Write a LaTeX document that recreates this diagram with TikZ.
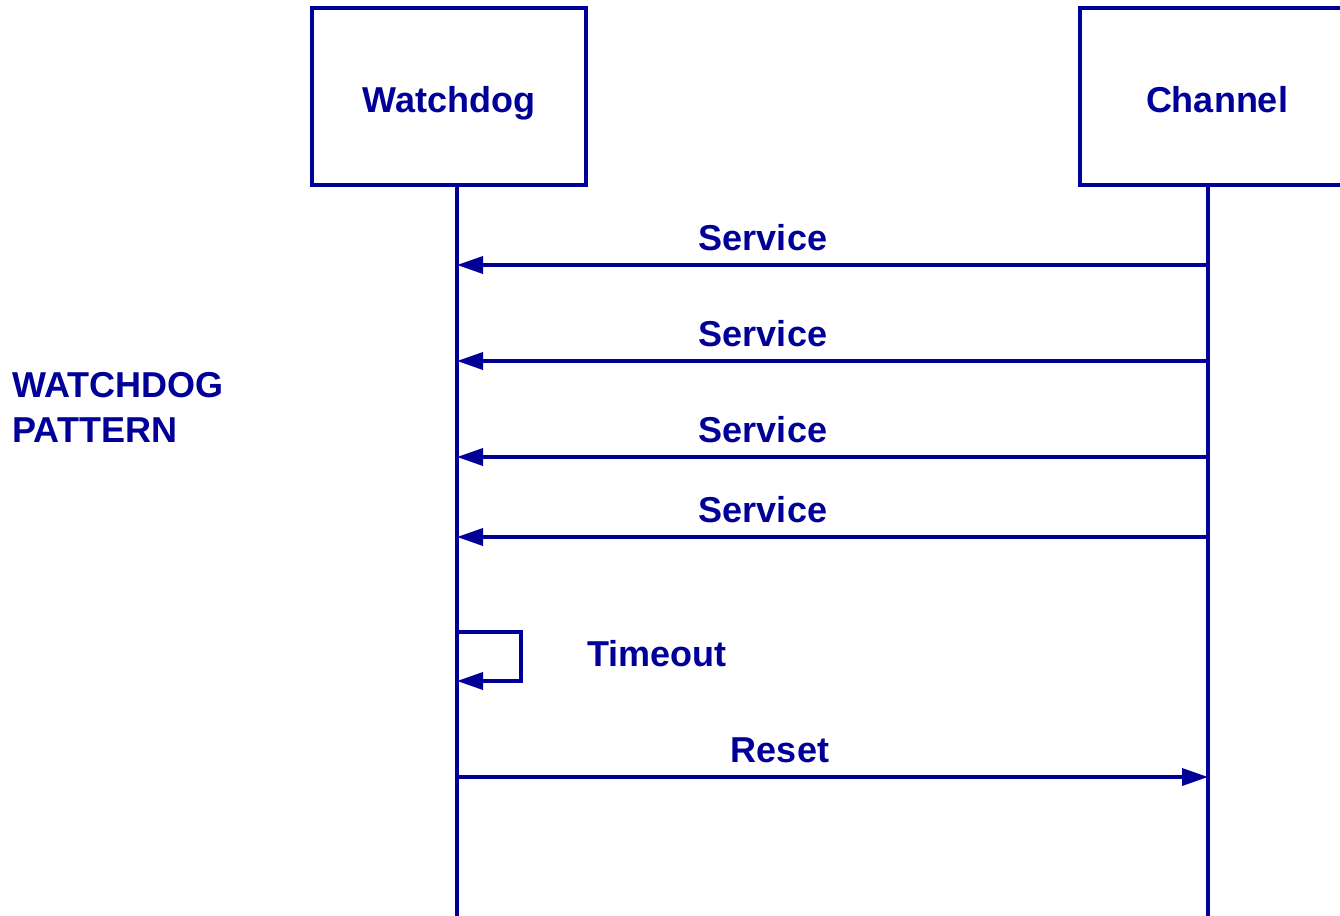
\documentclass[tikz,border=0pt]{standalone}
\usepackage{fontspec}
\setmainfont{Liberation Sans}
\usepackage{tikz}
\usetikzlibrary{arrows.meta,positioning}
\definecolor{navy}{HTML}{000099}

\begin{document}
\begin{tikzpicture}[
      x=0.5pt,y=-0.5pt,
      every node/.style={font=\fontsize{18}{21}\selectfont\bfseries,text=navy},
      actorbox/.style={draw=navy,line width=2pt,minimum width=137pt,minimum height=88.5pt,inner sep=0pt,text height=18pt,text depth=2.5pt},
      lifeline/.style={draw=navy,line width=2pt},
      msg/.style={draw=navy,line width=1.8pt,-{Triangle[length=13pt,width=8.5pt]}},
      msglabel/.style={anchor=base}
  ]
    \useasboundingbox (0,0) rectangle (1340,916);
    \clip (0,0) rectangle (1340,916);

    % actors
    \node[actorbox] (watchdog) at (449,96.5) {Watchdog};
    \node[actorbox] (channel) at (1217,96.5) {Channel};

    % lifelines
    \coordinate (wdtop) at (457,185);
    \coordinate (wdend) at (457,916);
    \coordinate (chtop) at (1208,185);
    \coordinate (chend) at (1208,916);
    \draw[lifeline] (wdtop) -- (wdend);
    \draw[lifeline] (chtop) -- (chend);

    \node[anchor=base west,inner sep=0pt] (title) at (12,397) {WATCHDOG};
    \node[anchor=base west,inner sep=0pt] (title2) at (12,442) {PATTERN};

    % service messages
    \foreach \y/\n in {265/1,361/2,457/3,537/4} {
      \coordinate (chs\n) at (1208,\y);
      \coordinate (wds\n) at (457,\y);
      \draw[msg] (chs\n) -- (wds\n);
      \node[msglabel] (service\n) at (763,\y-15) {Service};
    }

    % timeout
    \coordinate (tostart) at (457,632);
    \coordinate (toend) at (457,681);
    \draw[msg] (tostart) -- (521,632) -- (521,681) -- (toend);
    \node[msglabel] (timeout) at (657,666) {Timeout};

    % reset
    \coordinate (wdr) at (457,777);
    \coordinate (chr) at (1208,777);
    \draw[msg] (wdr) -- (chr);
    \node[msglabel] (reset) at (780,762) {Reset};
  \end{tikzpicture}
\end{document}
